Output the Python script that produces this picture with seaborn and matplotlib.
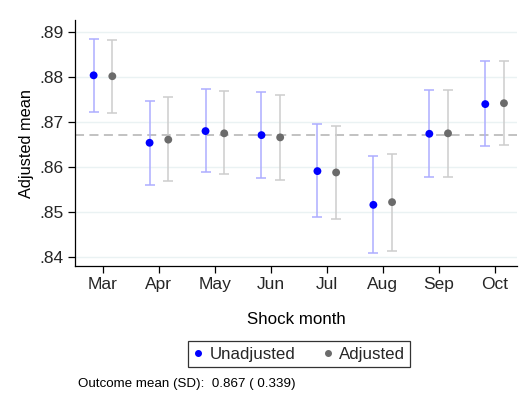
import matplotlib
matplotlib.use("Agg")
import matplotlib.pyplot as plt
import seaborn as sns
import numpy as np
import pandas as pd

months = ["Mar", "Apr", "May", "Jun", "Jul", "Aug", "Sep", "Oct"]

unadj_mean = [0.8803, 0.8653, 0.8679, 0.8670, 0.8590, 0.8515, 0.8673, 0.8739]
unadj_lo = [0.8722, 0.8560, 0.8587, 0.8575, 0.8487, 0.8407, 0.8576, 0.8645]
unadj_hi = [0.8884, 0.8747, 0.8772, 0.8765, 0.8694, 0.8624, 0.8770, 0.8834]

adj_mean = [0.8801, 0.8660, 0.8674, 0.8665, 0.8587, 0.8521, 0.8674, 0.8741]
adj_lo = [0.8719, 0.8567, 0.8583, 0.8571, 0.8483, 0.8413, 0.8578, 0.8647]
adj_hi = [0.8881, 0.8754, 0.8768, 0.8759, 0.8691, 0.8629, 0.8770, 0.8835]

outcome_mean = 0.867
outcome_sd = 0.339
yticks = [0.84, 0.85, 0.86, 0.87, 0.88, 0.89]
ytick_labels = [".84", ".85", ".86", ".87", ".88", ".89"]

sns.set_theme(style="white")
plt.rcParams["font.family"] = ["Liberation Sans", "DejaVu Sans"]

pos = np.arange(len(months))
offset = 0.167
df = pd.concat([
    pd.DataFrame({"x": pos - offset, "mean": unadj_mean, "lo": unadj_lo,
                  "hi": unadj_hi, "Series": "Unadjusted"}),
    pd.DataFrame({"x": pos + offset, "mean": adj_mean, "lo": adj_lo,
                  "hi": adj_hi, "Series": "Adjusted"}),
], ignore_index=True)

fig = plt.figure(figsize=(5.19, 3.96), dpi=100)
ax = fig.add_axes([75 / 519, 1 - 266 / 396, (517 - 75) / 519, (266 - 20) / 396])

bar_colors = {"Unadjusted": "#adadff", "Adjusted": "#cdcdcd"}
dot_colors = {"Unadjusted": "#0000ff", "Adjusted": "#6b6b6b"}

for gridy in yticks:
    ax.axhline(gridy, color="#eaf2f3", lw=1.0, zorder=0)

ax.axhline(outcome_mean, color="#bdbdbd", lw=1.3, ls=(0, (5, 3)), zorder=1)

for name, sub in df.groupby("Series", sort=False):
    ax.errorbar(sub["x"], sub["mean"],
                yerr=[sub["mean"] - sub["lo"], sub["hi"] - sub["mean"]],
                fmt="none", ecolor=bar_colors[name], elinewidth=1.1,
                capsize=3.7, capthick=1.1, zorder=2)

sns.scatterplot(data=df, x="x", y="mean", hue="Series", palette=dot_colors,
                s=32, edgecolor="none", ax=ax, zorder=3, legend=False)

ax.set_xlim(-0.5, 7.4)
ax.set_ylim(0.8379, 0.8926)
ax.set_xticks(pos)
ax.set_xticklabels(months)
ax.set_yticks(yticks)
ax.set_yticklabels(ytick_labels)
ax.tick_params(axis="both", direction="out", length=5, width=0.9,
               color="black", labelsize=12.5, pad=3, bottom=True, left=True)
for side in ["top", "right"]:
    ax.spines[side].set_visible(False)
for side in ["left", "bottom"]:
    ax.spines[side].set_color("black")
    ax.spines[side].set_linewidth(0.9)

ax.set_xlabel("Shock month", fontsize=12.2, labelpad=14, color="black")
ax.set_ylabel("Adjusted mean", fontsize=11.8, labelpad=4, color="black")

handles = [
    plt.Line2D([], [], ls="none", marker="o", ms=4, color=dot_colors["Unadjusted"],
               label="Unadjusted"),
    plt.Line2D([], [], ls="none", marker="o", ms=4, color=dot_colors["Adjusted"],
               label="Adjusted"),
]
leg = fig.legend(handles=handles, loc="center", bbox_to_anchor=(299 / 519, 1 - 354 / 396),
                 ncol=2, frameon=True, fontsize=12.2, handlelength=0.6,
                 handletextpad=0.4, columnspacing=1.6, borderpad=0.3,
                 fancybox=False, edgecolor="black")
leg.get_frame().set_linewidth(0.9)

fig.text(78 / 519, 1 - 384 / 396,
         f"Outcome mean (SD):  {outcome_mean:.3f} ( {outcome_sd:.3f})",
         fontsize=9.6, va="center", ha="left", color="black")

fig.savefig("out.png", dpi=100, facecolor="white")
